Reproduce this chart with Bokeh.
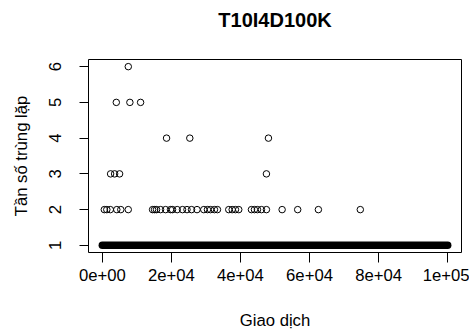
from bokeh.plotting import figure
from bokeh.models import Range1d, FixedTicker, Title
from bokeh.embed import file_html
from bokeh.resources import INLINE

# ---- data ----
title_text = "T10I4D100K"
x_label = "Giao dịch"
y_label = "Tần số trùng lặp"

x_ticks = [0, 20000, 40000, 60000, 80000, 100000]
x_tick_labels = ["0e+00", "2e+04", "4e+04", "6e+04", "8e+04", "1e+05"]
y_ticks = [1, 2, 3, 4, 5, 6]
y_tick_labels = ["1", "2", "3", "4", "5", "6"]

# transactions with frequency 1 fill the whole index range (dense band)
band_start = [1]
band_end = [100000]
band_freq = [1]

freq2_x = [580, 1300, 2310, 4190, 5350, 7510, 14550, 15130, 15700, 16860,
           18310, 19750, 20330, 21690, 23220, 24520, 25830, 27420, 29380,
           30450, 31320, 32470, 33340, 36610, 37600, 38550, 39500, 43180,
           44050, 44920, 46080, 47520, 52060, 56570, 62560, 74700]
freq3_x = [2400, 3560, 5000, 47520]
freq4_x = [18600, 25330, 48100]
freq5_x = [4050, 7980, 11080]
freq6_x = [7520]

FONT = "Liberation Sans"
FS = "16.7px"

p = figure(width=469, height=336, output_backend="svg", toolbar_location=None,
           x_range=Range1d(-3999.96, 103999.96), y_range=Range1d(0.8, 6.2),
           min_border_left=88, min_border_right=8, min_border_top=59,
           min_border_bottom=84)
p.title.text = title_text
p.title.align = "center"
p.title.vertical_align = "top"
p.title.text_font = FONT
p.title.text_font_size = "20px"
p.title.text_font_style = "bold"
p.title.text_color = "black"
p.title.standoff = 14
# blank spacer between the title and the plot box
p.add_layout(Title(text=" ", text_font_size="2px", standoff=16), "above")

p.background_fill_color = "white"
p.border_fill_color = "white"
p.outline_line_color = "black"
p.outline_line_width = 1
p.xgrid.visible = False
p.ygrid.visible = False

for ax, ticks, labels, tout in ((p.xaxis, x_ticks, x_tick_labels, 10),
                                (p.yaxis, y_ticks, y_tick_labels, 9)):
    ax.ticker = FixedTicker(ticks=ticks)
    ax.major_label_overrides = dict(zip(ticks, labels))
    ax.minor_tick_line_color = None
    ax.major_tick_in = 0
    ax.major_tick_out = tout
    ax.major_tick_line_color = "black"
    ax.axis_line_color = None
    ax.major_label_text_font = FONT
    ax.major_label_text_font_size = FS
    ax.major_label_text_color = "black"
    ax.axis_label_text_font = FONT
    ax.axis_label_text_font_size = FS
    ax.axis_label_text_font_style = "normal"
    ax.axis_label_text_color = "black"

p.xaxis.axis_label = x_label
p.yaxis.axis_label = y_label
p.xaxis.major_label_standoff = 6
p.xaxis.axis_label_standoff = 27
p.yaxis.major_label_standoff = 18
p.yaxis.axis_label_standoff = 16
p.yaxis.major_label_orientation = "vertical"

# dense band of frequency-1 transactions
p.segment(x0=band_start, y0=band_freq, x1=band_end, y1=band_freq,
          line_color="black", line_width=7.5, line_cap="round")

for xs, f in ((freq2_x, 2), (freq3_x, 3), (freq4_x, 4), (freq5_x, 5), (freq6_x, 6)):
    p.scatter(x=xs, y=[f] * len(xs), marker="circle", size=6.5,
              fill_color=None, line_color="black", line_width=1)

open("out.html", "w").write(file_html(p, INLINE))
